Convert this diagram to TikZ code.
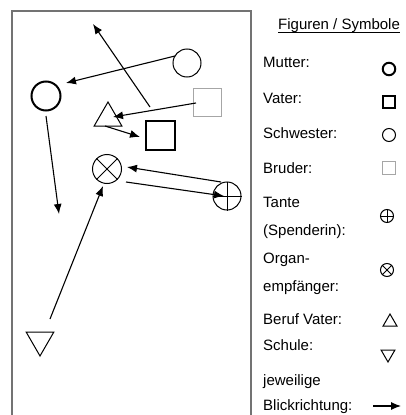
\documentclass[tikz,border=0pt]{standalone}
\usepackage{fontspec}
\setmainfont{Liberation Sans}
\usetikzlibrary{shapes.geometric,arrows.meta}
\begin{document}
\begin{tikzpicture}[x=1pt,y=-1pt,
  fig/.style={draw=black,line width=1pt,inner sep=0pt,fill=white},
  thick fig/.style={fig,line width=2pt},
  pers/.style={circle,minimum size=#1},
  box/.style={rectangle,minimum size=#1},
  tri/.style={regular polygon,regular polygon sides=3,minimum size=#1},
  look/.style={-{Latex[length=10pt,width=8pt]},line width=1.1pt},
  lbl/.style={anchor=base west,inner sep=0pt,font=\fontsize{15}{18}\selectfont}
]
\useasboundingbox (0,0) rectangle (406,415);
% frame of the scene
\draw[gray!90!black,line width=1.5pt] (12,420) -- (12,11) -- (251,11) -- (251,420);

% figures in the scene
\node[thick fig,pers=29pt] (mutter) at (46,96) {};
\node[fig,pers=28pt] (schwester) at (187,63) {};
\node[fig,draw=gray!70,box=28pt] (bruder) at (207,102) {};
\node[fig,tri=32pt] (beruf) at (108,118) {};
\node[thick fig,box=29pt] (vater) at (160,135) {};
\node[fig,pers=29pt] (organ) at (107,169) {};
\draw[line width=1pt] (organ.north east) -- (organ.south west) (organ.north west) -- (organ.south east);
\node[fig,pers=28pt] (tante) at (227,196) {};
\draw[line width=1pt] (tante.north) -- (tante.south) (tante.west) -- (tante.east);
\node[fig,tri=32pt,shape border rotate=180] (schule) at (40,340) {};

% viewing directions
\coordinate (s1) at (175,56);  \coordinate (e1) at (66,83);
\coordinate (s2) at (150,107); \coordinate (e2) at (93,24);
\coordinate (s3) at (196,103); \coordinate (e3) at (113,117);
\coordinate (s4) at (105,126); \coordinate (e4) at (140,137);
\coordinate (s5) at (46,116);  \coordinate (e5) at (59,214);
\coordinate (s6) at (221,182); \coordinate (e6) at (127,167);
\coordinate (s7) at (126,182); \coordinate (e7) at (224,196);
\coordinate (s8) at (50,319);  \coordinate (e8) at (103,186);
\foreach \i in {1,...,8} \draw[look] (s\i) -- (e\i);

% legend
\node[lbl] (title) at (278,29) {Figuren / Symbole};
\draw[line width=0.8pt] ([yshift=-3pt]title.base west) -- ([yshift=-3pt]title.base east);
\node[lbl] (l1) at (263,67) {Mutter:};
\node[lbl] (l2) at (263,103) {Vater:};
\node[lbl] (l3) at (263,138) {Schwester:};
\node[lbl] (l4) at (263,173) {Bruder:};
\node[lbl] (l5) at (263,207.5) {Tante};
\node[lbl] (l6) at (263,235.5) {(Spenderin):};
\node[lbl] (l7) at (263,263.5) {Organ-};
\node[lbl] (l8) at (263,291.5) {empfänger:};
\node[lbl] (l9) at (263,324.5) {Beruf Vater:};
\node[lbl] (l10) at (263,350.5) {Schule:};
\node[lbl] (l11) at (263,385) {jeweilige};
\node[lbl] (l12) at (263,410.5) {Blickrichtung:};

\node[thick fig,pers=12.5pt] (km) at (389,69) {};
\node[thick fig,box=12.5pt] (kv) at (389,102) {};
\node[fig,pers=13pt] (ks) at (389,135) {};
\node[fig,draw=gray!70,box=13pt] (kb) at (389,168) {};
\node[fig,pers=13pt] (kt) at (387,216) {};
\draw[line width=1pt] (kt.north) -- (kt.south) (kt.west) -- (kt.east);
\node[fig,pers=13pt] (ko) at (387,270) {};
\draw[line width=1pt] (ko.north east) -- (ko.south west) (ko.north west) -- (ko.south east);
\node[fig,tri=16pt] (kbv) at (390,322) {};
\node[fig,tri=16pt,shape border rotate=180] (ksch) at (388,354) {};
\coordinate (ka) at (373,406); \coordinate (kb2) at (401,406);
\draw[look] (ka) -- (kb2);
\end{tikzpicture}
\end{document}
